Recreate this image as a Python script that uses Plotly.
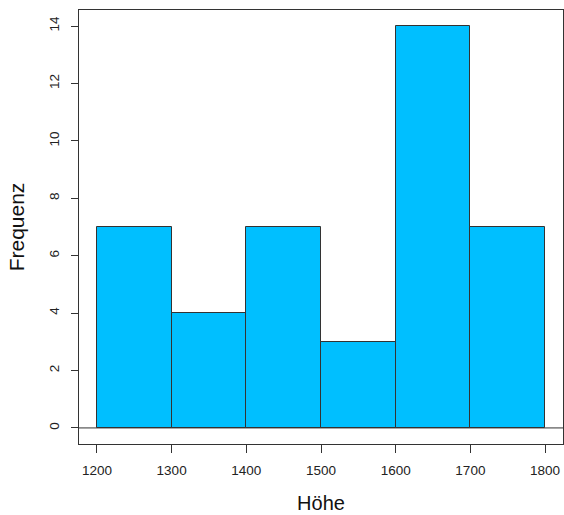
import plotly.graph_objects as go

bin_edges = [1200, 1300, 1400, 1500, 1600, 1700, 1800]
counts = [7, 4, 7, 3, 14, 7]
x_ticks = [1200, 1300, 1400, 1500, 1600, 1700, 1800]
y_ticks = [0, 2, 4, 6, 8, 10, 12, 14]

lefts = bin_edges[:-1]
widths = [b - a for a, b in zip(bin_edges[:-1], bin_edges[1:])]

fig = go.Figure()
fig.add_trace(go.Bar(
    x=lefts, y=counts, width=widths, offset=0,
    marker=dict(color="#00BFFF", line=dict(color="#333333", width=1)),
    hoverinfo="skip",
))
fig.add_hline(y=0, line=dict(color="#333333", width=1))

font = "Liberation Sans, Arial, sans-serif"
fig.update_layout(
    width=564, height=515,
    margin=dict(l=79, r=1, t=10, b=71),
    paper_bgcolor="white", plot_bgcolor="white",
    showlegend=False,
    font=dict(family=font, color="#222222"),
    xaxis=dict(
        range=[1176, 1824], tickvals=x_ticks, ticks="outside", ticklen=8,
        tickcolor="#333333", showgrid=False, zeroline=False,
        showline=True, linecolor="#333333", linewidth=1, mirror=True,
        tickfont=dict(size=13.5, family=font), ticklabelstandoff=6,
        title=dict(text="Höhe", font=dict(size=20, family=font, color="#111111"), standoff=18),
    ),
    yaxis=dict(
        range=[-0.56, 14.56], tickvals=y_ticks, ticks="outside", ticklen=7,
        tickcolor="#333333", showgrid=False, zeroline=False,
        showline=True, linecolor="#333333", linewidth=1, mirror=True,
        tickangle=-90,
        tickfont=dict(size=13.5, family=font), ticklabelstandoff=7,
        title=dict(text="Frequenz", font=dict(size=21, family=font, color="#111111"), standoff=16),
    ),
    bargap=0,
)

fig.write_html("out.html")
